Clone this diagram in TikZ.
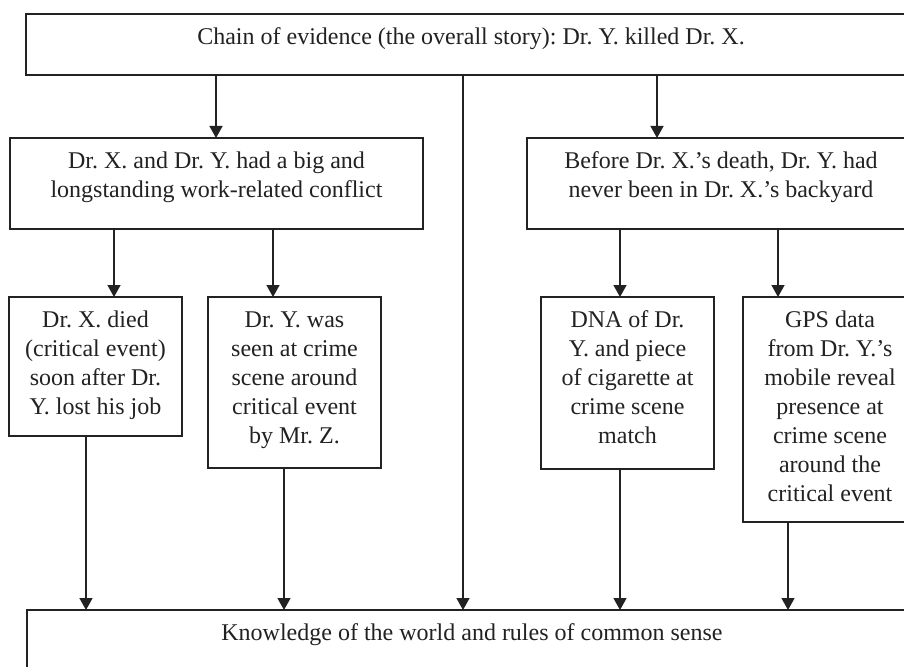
\documentclass[tikz,border=0pt]{standalone}
\usepackage{fontspec}
\setmainfont{Liberation Serif}
\usetikzlibrary{arrows.meta}
\definecolor{ink}{RGB}{34,34,34}
\frenchspacing
\begin{document}
\begin{tikzpicture}[x=1pt,y=-1pt,
  box/.style={draw=ink, line width=1.5pt, inner sep=0pt, outer sep=0pt, anchor=north west},
  txt/.style={inner sep=0pt, anchor=north, align=center, text=ink, font=\fontsize{24}{29}\selectfont\frenchspacing},
  arr/.style={draw=ink, line width=1.5pt, -{Triangle[width=13pt,length=12pt]}}]
\useasboundingbox (0,0) rectangle (904,666);
\clip (0,0) rectangle (904,666);
\fill[white] (0,0) rectangle (904,666);
% boxes
\node[box, minimum width=890pt, minimum height=61pt] (top) at (26,14) {};
\node[box, minimum width=413pt, minimum height=91pt] (L) at (10,138) {};
\node[box, minimum width=390pt, minimum height=91pt] (R) at (527,138) {};
\node[box, minimum width=173pt, minimum height=139pt] (B1) at (9,297) {};
\node[box, minimum width=173pt, minimum height=171pt] (B2) at (208,297) {};
\node[box, minimum width=173pt, minimum height=172pt] (B3) at (541,297) {};
\node[box, minimum width=174pt, minimum height=225pt] (B4) at (743,297) {};
\node[box, minimum width=890pt, minimum height=100pt] (bot) at (27,610) {};
% texts
\node[txt] (topT) at (471,24) {\strut Chain of evidence (the overall story): Dr. Y. killed Dr. X.};
\node[txt] (LT) at (216.5,148) {\strut Dr. X. and Dr. Y. had a big and\\longstanding work-related conflict};
\node[txt] (RT) at (721,148) {\strut Before Dr. X.’s death, Dr. Y. had\\never been in Dr. X.’s backyard};
\node[txt] (B1T) at (95.5,307) {\strut Dr. X. died\\(critical event)\\soon after Dr.\\Y. lost his job};
\node[txt] (B2T) at (294.5,307) {\strut Dr. Y. was\\seen at crime\\scene around\\critical event\\by Mr. Z.};
\node[txt] (B3T) at (627.5,307) {\strut DNA of Dr.\\Y. and piece\\of cigarette at\\crime scene\\match};
\node[txt] (B4T) at (830,307) {\strut GPS data\\from Dr. Y.’s\\mobile reveal\\presence at\\crime scene\\around the\\critical event};
\node[txt] (botT) at (472,620) {\strut Knowledge of the world and rules of common sense};
% columns
\coordinate (a1) at (216,0);
\coordinate (a2) at (463,0);
\coordinate (a3) at (657,0);
\coordinate (b1) at (114,0);
\coordinate (b2) at (273,0);
\coordinate (c1) at (620,0);
\coordinate (c2) at (778,0);
\coordinate (d1) at (86,0);
\coordinate (d2) at (284,0);
\coordinate (d3) at (620,0);
\coordinate (d4) at (788,0);
% connectors
\draw[arr] (top.south -| a1) -- (L.north -| a1);
\draw[arr] (top.south -| a2) -- (bot.north -| a2);
\draw[arr] (top.south -| a3) -- (R.north -| a3);
\draw[arr] (L.south -| b1) -- (B1.north -| b1);
\draw[arr] (L.south -| b2) -- (B2.north -| b2);
\draw[arr] (R.south -| c1) -- (B3.north -| c1);
\draw[arr] (R.south -| c2) -- (B4.north -| c2);
\draw[arr] (B1.south -| d1) -- (bot.north -| d1);
\draw[arr] (B2.south -| d2) -- (bot.north -| d2);
\draw[arr] (B3.south -| d3) -- (bot.north -| d3);
\draw[arr] (B4.south -| d4) -- (bot.north -| d4);
\end{tikzpicture}
\end{document}
